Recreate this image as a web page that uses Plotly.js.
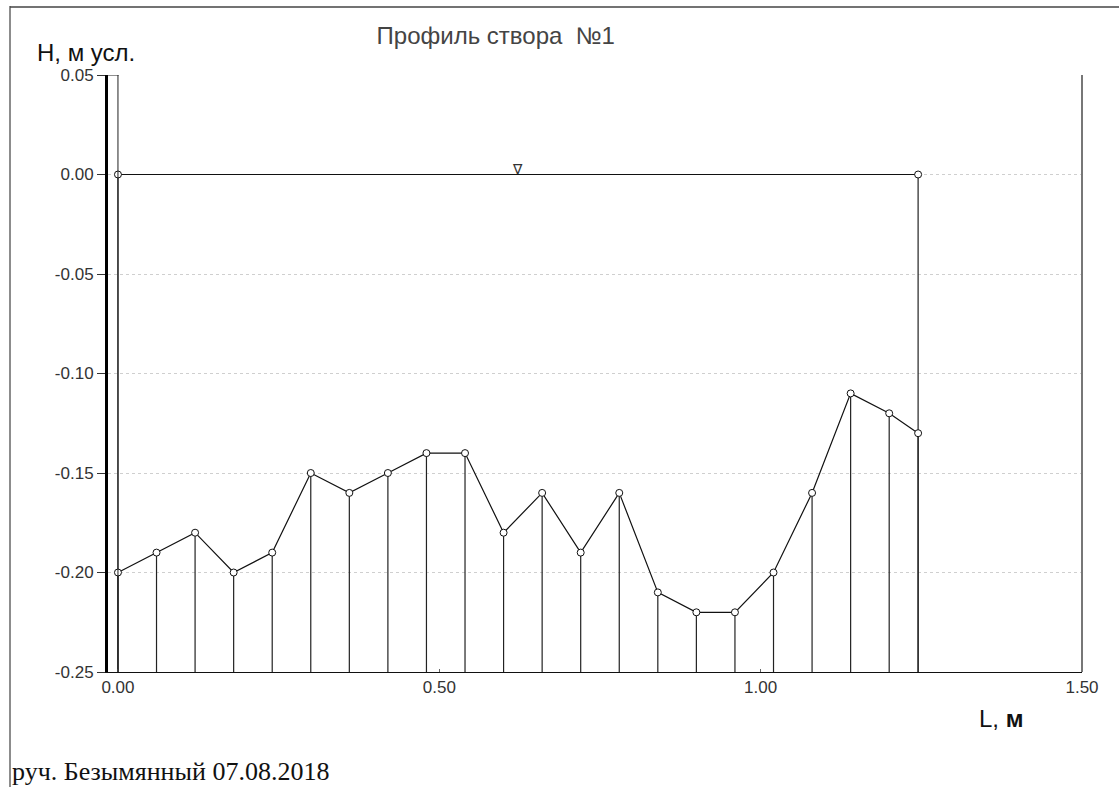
<!DOCTYPE html>
<html>
<head>
<meta charset="utf-8">
<script src="https://cdn.plot.ly/plotly-3.0.1.min.js"></script>
<style>
  html, body { margin: 0; padding: 0; background: #fff; }
  #chart { width: 1119px; height: 787px; }
</style>
</head>
<body>
<div id="chart"></div>
<script>
// ---- data ----
const distance = [0.00, 0.06, 0.12, 0.18, 0.24, 0.30, 0.36, 0.42, 0.48, 0.54, 0.60,
                  0.66, 0.72, 0.78, 0.84, 0.90, 0.96, 1.02, 1.08, 1.14, 1.20, 1.245];
const depth    = [-0.20, -0.19, -0.18, -0.20, -0.19, -0.15, -0.16, -0.15, -0.14, -0.14, -0.18,
                  -0.16, -0.19, -0.16, -0.21, -0.22, -0.22, -0.20, -0.16, -0.11, -0.12, -0.13];
const waterLevel = 0.00;
const waterEdges = [0.00, 1.245];
const xTickVals = [0.00, 0.50, 1.00, 1.50];
const xTickText = ['0.00', '0.50', '1.00', '1.50'];
const yTickVals = [0.05, 0.00, -0.05, -0.10, -0.15, -0.20, -0.25];
const yTickText = ['0.05', '0.00', '-0.05', '-0.10', '-0.15', '-0.20', '-0.25'];
const titleText = 'Профиль створа  №1';
const yTitle = 'Н, м усл.';
const xTitle = 'L, <b>м</b>';
const footer = 'руч. Безымянный 07.08.2018';

const yMin = -0.25, yMax = 0.05;
const xMin = -0.0155, xMax = 1.5;

// drop lines from each point to bottom
const dropX = [], dropY = [];
distance.forEach((x, i) => { dropX.push(x, x, null); dropY.push(depth[i], yMin, null); });
// edge verticals from water level to bottom
waterEdges.forEach(x => { dropX.push(x, x, null); dropY.push(waterLevel, yMin, null); });

const tickFont = { family: 'Liberation Sans Narrow, Liberation Sans, Arial, sans-serif', size: 17, color: '#333' };

const traces = [
  { x: dropX, y: dropY, mode: 'lines', line: { color: '#222', width: 1.2 }, hoverinfo: 'skip', showlegend: false },
  { x: waterEdges, y: waterEdges.map(() => waterLevel), mode: 'lines+markers',
    line: { color: '#111', width: 1.2 },
    marker: { symbol: 'circle', size: 7, color: '#fff', line: { color: '#111', width: 1 } }, showlegend: false },
  { x: distance, y: depth, mode: 'lines+markers',
    line: { color: '#111', width: 1.2 },
    marker: { symbol: 'circle', size: 7, color: '#fff', line: { color: '#111', width: 1 } }, showlegend: false }
];

const layout = {
  width: 1119, height: 787,
  margin: { l: 108, r: 37, t: 75, b: 115 },
  paper_bgcolor: '#fff', plot_bgcolor: '#fff',
  showlegend: false,
  title: { text: titleText, x: 0.443, xref: 'container', xanchor: 'center', y: 0.955, yref: 'container', yanchor: 'middle',
           font: { family: 'Liberation Sans, Arial, sans-serif', size: 24, color: '#444' } },
  xaxis: {
    range: [xMin, xMax], tickvals: xTickVals, ticktext: xTickText,
    showgrid: false, zeroline: false,
    showline: true, linecolor: '#111', linewidth: 1,
    ticks: 'inside', ticklen: 3, tickcolor: '#666',
    tickfont: tickFont
  },
  yaxis: {
    range: [yMin, yMax], tickvals: yTickVals, ticktext: yTickText,
    showgrid: true, gridcolor: '#cfcfcf', griddash: 'dot', gridwidth: 1,
    zeroline: false,
    showline: true, linecolor: '#000', linewidth: 3,
    ticks: 'outside', ticklen: 8, tickcolor: '#333',
    tickfont: tickFont
  },
  shapes: [
    // thin left vertical at x=0 up to top
    { type: 'line', xref: 'x', yref: 'y', x0: distance[0], x1: distance[0], y0: yMin, y1: yMax, line: { color: '#222', width: 1 } },
    { type: 'line', xref: 'paper', yref: 'y', x0: 0, x1: 0.011, y0: yMax, y1: yMax, line: { color: '#222', width: 1 } },
    // right gray border
    { type: 'line', xref: 'paper', yref: 'paper', x0: 1, x1: 1, y0: 0, y1: 1, line: { color: '#777', width: 2 } },
    // outer frame: left and top
    { type: 'line', xref: 'paper', yref: 'paper', x0: (10 - 108) / 974, x1: (10 - 108) / 974, y0: 1 - (787 - 75) / 597, y1: 1 - (6 - 75) / 597, line: { color: '#666', width: 1.5 } },
    { type: 'line', xref: 'paper', yref: 'paper', x0: (10 - 108) / 974, x1: (1119 - 108) / 974, y0: 1 - (7 - 75) / 597, y1: 1 - (7 - 75) / 597, line: { color: '#444', width: 1.5 } }
  ],
  annotations: [
    { text: yTitle, xref: 'paper', yref: 'paper', x: (35 - 108) / 974, y: 1 - (52 - 75) / 597, xanchor: 'left', yanchor: 'middle', showarrow: false,
      font: { family: 'Liberation Sans, Arial, sans-serif', size: 24, color: '#111' } },
    { text: xTitle, xref: 'paper', yref: 'paper', x: (977 - 108) / 974, y: 1 - (718 - 75) / 597, xanchor: 'left', yanchor: 'middle', showarrow: false,
      font: { family: 'Liberation Sans, Arial, sans-serif', size: 24, color: '#111' } },
    { text: '∇', xref: 'x', yref: 'y', x: 0.622, y: waterLevel, yanchor: 'bottom', xanchor: 'center', showarrow: false, yshift: -4,
      font: { family: 'DejaVu Sans, sans-serif', size: 14, color: '#333' } },
    { text: footer, xref: 'paper', yref: 'paper', x: (10 - 108) / 974, y: 1 - (771 - 75) / 597, xanchor: 'left', yanchor: 'middle', showarrow: false,
      font: { family: 'Liberation Serif, Times New Roman, serif', size: 26, color: '#111' } }
  ]
};

Plotly.newPlot('chart', traces, layout, { staticPlot: true, displayModeBar: false });
</script>
</body>
</html>
